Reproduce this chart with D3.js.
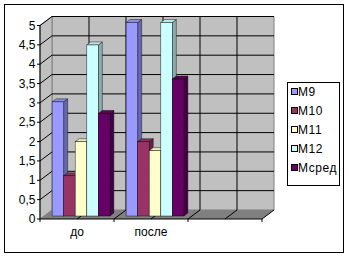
<!DOCTYPE html>
<html><head><meta charset="utf-8">
<script src="https://cdn.jsdelivr.net/npm/d3@7"></script>
<style>body{margin:0;background:#fff}svg{display:block;font-family:"Liberation Sans",Arial,sans-serif}</style>
</head><body>
<script>
const categories = ["до", "после", ""];
const seriesNames = ["М9", "М10", "М11", "М12", "Мсред"];
const M9 = [2.95, 5.0];
const M10 = [1.04, 1.92];
const M11 = [1.92, 1.69];
const M12 = [4.42, 5.0];
const Mavg = [2.65, 3.54];
const seriesValues = [M9, M10, M11, M12, Mavg];
const colors = ["#9999FF", "#993366", "#FFFFCC", "#CCFFFF", "#660066"];
const yTicks = [0, 0.5, 1, 1.5, 2, 2.5, 3, 3.5, 4, 4.5, 5];

const W = 349, H = 258;
const DX = 12, DY = 9;
const svg = d3.select("body").append("svg").attr("width", W).attr("height", H);

svg.append("rect").attr("x", 4.5).attr("y", 4.5).attr("width", 339).attr("height", 248)
  .attr("fill", "#fff").attr("stroke", "#000");

const x = d3.scaleBand().domain(categories.map((c, i) => i)).range([40, 262]).padding(0);
const y = d3.scaleLinear().domain([0, 5]).range([219, 25.5]);
const x0 = 40, x1 = 262;
const P = (px, py, d) => [px + d * DX, py - d * DY];
const poly = pts => pts.map(p => p.join(",")).join(" ");

// back wall
svg.append("polygon").attr("points", poly([P(x0, y(0), 1), P(x1, y(0), 1), P(x1, y(5), 1), P(x0, y(5), 1)]))
  .attr("fill", "#C0C0C0").attr("stroke", "#808080");
// left wall
svg.append("polygon").attr("points", poly([P(x0, y(0), 0), P(x0, y(0), 1), P(x0, y(5), 1), P(x0, y(5), 0)]))
  .attr("fill", "#C0C0C0").attr("stroke", "#808080");
// floor
svg.append("polygon").attr("points", poly([P(x0, y(0), 0), P(x1, y(0), 0), P(x1, y(0), 1), P(x0, y(0), 1)]))
  .attr("fill", "#808080");

// horizontal gridlines
yTicks.forEach(t => {
  if (t === 0) return;
  const a = P(x0, y(t), 0), b = P(x0, y(t), 1), c = P(x1, y(t), 1);
  svg.append("polyline").attr("points", poly([a, b, c])).attr("fill", "none").attr("stroke", "#000").attr("stroke-width", 1);
});
// vertical gridlines (category boundaries and centres)
const vpos = [];
categories.forEach((c, i) => { vpos.push(x(i)); vpos.push(x(i) + x.bandwidth() / 2); });
vpos.push(x1);
vpos.forEach((vx, i) => {
  const a = P(vx, y(0), 0), b = P(vx, y(0), 1), c = P(vx, y(5), 1);
  if (i > 0) svg.append("line").attr("x1", a[0]).attr("y1", a[1]).attr("x2", b[0]).attr("y2", b[1]).attr("stroke", "#000");
  if (i > 0 && i < vpos.length - 1) svg.append("line").attr("x1", b[0]).attr("y1", b[1]).attr("x2", c[0]).attr("y2", c[1]).attr("stroke", "#000");
});

// bars
const d0 = 1 / 3, d1 = 2 / 3;
categories.forEach((cat, ci) => {
  const pad = x.bandwidth() * 0.11;
  const xs = d3.scaleBand().domain(seriesNames).range([x(ci) + pad, x(ci) + x.bandwidth() - pad]);
  seriesNames.forEach((s, si) => {
    const v = seriesValues[si][ci];
    if (v === undefined) return;
    const bx0 = xs(s), bx1 = xs(s) + xs.bandwidth();
    const col = d3.color(colors[si]);
    const g = svg.append("g").attr("stroke", "#000").attr("stroke-width", 0.6).attr("stroke-opacity", 0.7);
    // side face
    g.append("polygon").attr("points", poly([P(bx1, y(v), d0), P(bx1, y(v), d1), P(bx1, y(0), d1), P(bx1, y(0), d0)]))
      .attr("fill", col.darker(1.1));
    // top face
    g.append("polygon").attr("points", poly([P(bx0, y(v), d0), P(bx1, y(v), d0), P(bx1, y(v), d1), P(bx0, y(v), d1)]))
      .attr("fill", col.darker(0.25));
    // front face
    const f = P(bx0, y(v), d0);
    g.append("rect").attr("x", f[0]).attr("y", f[1]).attr("width", bx1 - bx0).attr("height", y(0) - y(v))
      .attr("fill", colors[si]);
  });
});

// axes
svg.append("line").attr("x1", x0).attr("x2", x0).attr("y1", y(0)).attr("y2", y(5)).attr("stroke", "#000");
svg.append("line").attr("x1", x0).attr("x2", x1).attr("y1", y(0)).attr("y2", y(0)).attr("stroke", "#000");
yTicks.forEach(t => {
  svg.append("line").attr("x1", x0 - 3).attr("x2", x0).attr("y1", y(t)).attr("y2", y(t)).attr("stroke", "#000");
  svg.append("text").attr("x", 35.5).attr("y", y(t) + 4).attr("text-anchor", "end").attr("font-size", 12)
    .text(String(t).replace(".", ","));
});
[0, 1, 2, 3].forEach(i => {
  const tx = i < 3 ? x(i) : x1;
  svg.append("line").attr("x1", tx).attr("x2", tx).attr("y1", y(0)).attr("y2", y(0) + 3).attr("stroke", "#000");
});
categories.forEach((c, i) => {
  svg.append("text").attr("x", x(i) + x.bandwidth() / 2).attr("y", 236).attr("text-anchor", "middle")
    .attr("font-size", 12).text(c);
});

// legend
const lg = svg.append("g");
lg.append("rect").attr("x", 287.5).attr("y", 82.5).attr("width", 52).attr("height", 103).attr("fill", "#fff").attr("stroke", "#000");
seriesNames.forEach((s, i) => {
  const ly = 92 + i * 19;
  lg.append("rect").attr("x", 291.5).attr("y", ly - 3.5).attr("width", 6).attr("height", 6).attr("fill", colors[i]).attr("stroke", "#000");
  lg.append("text").attr("x", 298).attr("y", ly + 4).attr("font-size", 12).attr("letter-spacing", 0.6).text(s);
});
</script>
</body></html>
